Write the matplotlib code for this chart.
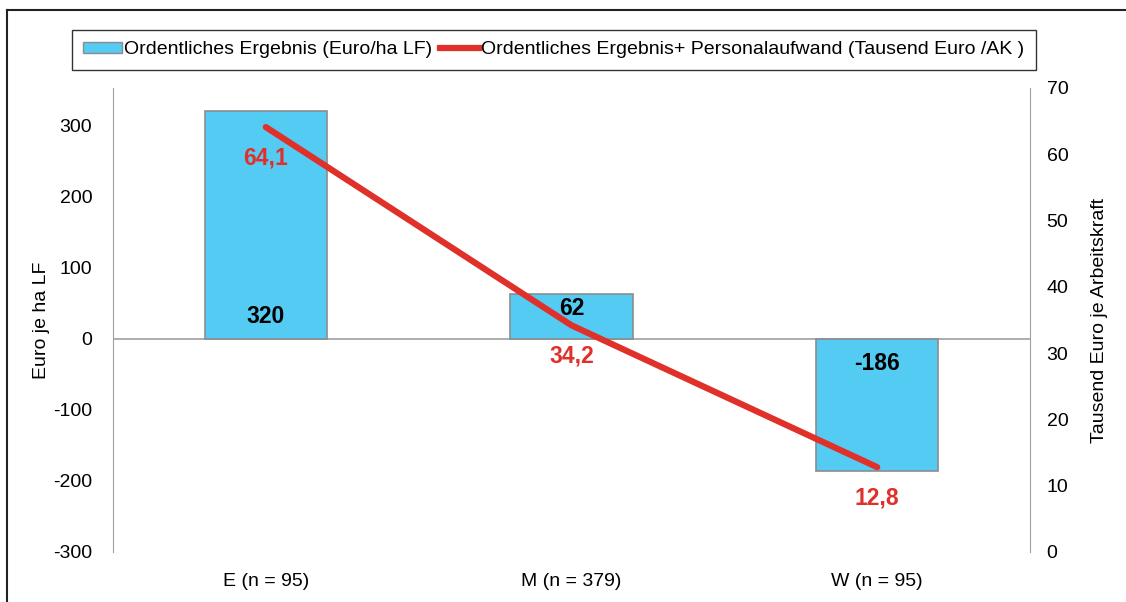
import matplotlib
matplotlib.use("Agg")
import matplotlib.pyplot as plt
from matplotlib import font_manager
from matplotlib.lines import Line2D

# Daten
categories = ["E (n = 95)", "M (n = 379)", "W (n = 95)"]
ergebnis_ha = [320, 62, -186]          # Euro/ha LF (Balken, linke Achse)
ergebnis_ak = [64.1, 34.2, 12.8]       # Tausend Euro/AK (Linie, rechte Achse)
bar_labels = ["320", "62", "-186"]
line_labels = ["64,1", "34,2", "12,8"]
bar_label_offsets = [22, 30, -25]      # px vom Nullpunkt

names = {f.name for f in font_manager.fontManager.ttflist}
font = "Liberation Sans Narrow" if "Liberation Sans Narrow" in names else "Liberation Sans"
plt.rcParams["font.family"] = [font, "DejaVu Sans"]
plt.rcParams["axes.unicode_minus"] = False

BLUE = "#53CBF3"
RED = "#E0302A"
GREY = "#A0A0A0"

fig = plt.figure(figsize=(11.26, 6.02), dpi=100)
ax = fig.add_axes([113 / 1126, 50 / 602, 917 / 1126, 464 / 602])
ax2 = ax.twinx()

x = list(range(len(categories)))
ax.bar(x, ergebnis_ha, width=0.4, color=BLUE, edgecolor="#8C8C8C", linewidth=1.2, zorder=2)
ax.axhline(0, color=GREY, linewidth=1.2, zorder=1)
ax.set_xlim(-0.5, 2.5)
ax.set_ylim(-300, 352)
ax.set_yticks([-300, -200, -100, 0, 100, 200, 300])
ax.set_xticks(x)
ax.set_xticklabels(categories, fontsize=14)
ax.tick_params(axis="both", length=0, labelsize=14, pad=15)
ax.tick_params(axis="x", pad=15)
ax.set_ylabel("Euro je ha LF", fontsize=14, labelpad=2)

for xi, lab, off in zip(x, bar_labels, bar_label_offsets):
    ax.annotate(lab, (xi, 0), xytext=(0, off * 0.72), textcoords="offset points",
                ha="center", va="center", fontsize=16.5, fontweight="bold", zorder=5)

ax2.plot(x, ergebnis_ak, color=RED, linewidth=4.5, solid_capstyle="round", zorder=3)
ax2.set_ylim(0, 70)
ax2.set_yticks(range(0, 71, 10))
ax2.tick_params(axis="y", length=0, labelsize=14, pad=12)
ax2.set_ylabel("Tausend Euro je Arbeitskraft", fontsize=14, labelpad=16)
for xi, v, lab in zip(x, ergebnis_ak, line_labels):
    ax2.annotate(lab, (xi, v), xytext=(0, -31 * 0.72), textcoords="offset points",
                 ha="center", va="center", fontsize=16.5, fontweight="bold", color=RED)

for a in (ax, ax2):
    for s in ("top", "bottom"):
        a.spines[s].set_visible(False)
    a.spines["left"].set_color(GREY)
    a.spines["right"].set_color(GREY)
ax2.spines["left"].set_visible(False)
ax.spines["right"].set_visible(False)

handles = [plt.Rectangle((0, 0), 1, 1, facecolor=BLUE, edgecolor="#8C8C8C"),
           Line2D([], [], color=RED, linewidth=4.5)]
leg = fig.legend(handles,
                 ["Ordentliches Ergebnis (Euro/ha LF)",
                  "Ordentliches Ergebnis+ Personalaufwand (Tausend Euro /AK )"],
                 loc="center left", bbox_to_anchor=(62 / 1126, 1 - 50 / 602),
                 ncol=2, fontsize=14, frameon=True, fancybox=False,
                 handlelength=2.0, handleheight=0.5, handletextpad=0.1,
                 columnspacing=0.4, borderpad=0.6)
leg.get_frame().set_edgecolor("black")
leg.get_frame().set_linewidth(1.0)

# Rahmen oben und links
fig.add_artist(Line2D([7 / 1126, 1], [1 - 10 / 602, 1 - 10 / 602], color="#222222", linewidth=1.5,
                      transform=fig.transFigure))
fig.add_artist(Line2D([7 / 1126, 7 / 1126], [0, 1 - 10 / 602], color="#222222", linewidth=1.5,
                      transform=fig.transFigure))

fig.savefig("out.png", dpi=100)
